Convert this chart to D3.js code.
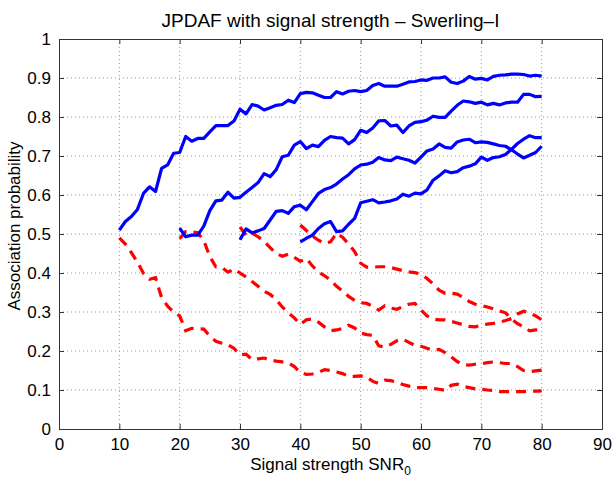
<!DOCTYPE html>
<html>
<head>
<meta charset="utf-8">
<script src="https://cdn.jsdelivr.net/npm/d3@7"></script>
<style>
  body { margin: 0; background: #fff; }
  text { font-family: "Liberation Sans", Arial, sans-serif; }
</style>
</head>
<body>
<div id="wrapper"></div>
<script>
// association probability vs SNR0, one value per unit of SNR
const blueStarts = [10, 20, 30, 40];
const blue1 = [0.51,0.532,0.545,0.563,0.604,0.621,0.609,0.668,0.677,0.707,0.709,0.750,0.738,0.745,0.745,0.762,0.778,0.778,0.778,0.790,
  0.820,0.808,0.832,0.828,0.818,0.824,0.830,0.832,0.843,0.837,0.860,0.863,0.862,0.856,0.850,0.850,0.865,0.859,0.866,0.868,
  0.865,0.868,0.881,0.886,0.879,0.879,0.879,0.884,0.890,0.891,0.895,0.894,0.900,0.900,0.903,0.889,0.886,0.892,0.904,0.897,
  0.899,0.895,0.904,0.907,0.908,0.910,0.910,0.909,0.905,0.907,0.905];
const blue2 = [0.515,0.493,0.497,0.497,0.52,0.56,0.585,0.587,0.607,0.592,0.594,0.607,0.619,0.632,0.655,0.647,0.665,0.698,0.702,0.728,
  0.737,0.719,0.728,0.724,0.740,0.750,0.747,0.746,0.731,0.742,0.766,0.760,0.772,0.790,0.791,0.777,0.779,0.760,0.777,0.786,
  0.788,0.792,0.802,0.799,0.799,0.815,0.830,0.841,0.839,0.835,0.838,0.831,0.835,0.831,0.836,0.838,0.838,0.858,0.858,0.852,0.853];
const blue3 = [0.485,0.513,0.503,0.508,0.514,0.536,0.558,0.560,0.553,0.570,0.574,0.562,0.583,0.604,0.614,0.619,0.628,0.641,0.652,0.667,
  0.677,0.679,0.684,0.696,0.690,0.688,0.697,0.693,0.689,0.682,0.697,0.713,0.718,0.731,0.722,0.720,0.736,0.741,0.743,0.734,
  0.736,0.735,0.731,0.727,0.725,0.716,0.705,0.695,0.702,0.709,0.725];
const blue4 = [0.480,0.489,0.497,0.514,0.526,0.532,0.506,0.508,0.525,0.540,0.580,0.584,0.588,0.580,0.582,0.585,0.590,0.602,0.597,0.605,
  0.603,0.613,0.638,0.649,0.662,0.657,0.660,0.670,0.674,0.680,0.697,0.689,0.696,0.698,0.704,0.717,0.732,0.743,0.752,0.747,0.747];

const redStarts = [10, 20, 30, 40];
const red1 = [0.49,0.474,0.452,0.428,0.399,0.384,0.388,0.337,0.315,0.300,0.290,0.252,0.258,0.257,0.256,0.238,0.225,0.220,0.216,0.207,
  0.190,0.192,0.178,0.180,0.182,0.177,0.174,0.172,0.170,0.160,0.145,0.140,0.141,0.145,0.152,0.150,0.146,0.142,0.135,0.135,
  0.136,0.133,0.122,0.117,0.125,0.124,0.120,0.114,0.110,0.106,0.106,0.106,0.104,0.102,0.099,0.112,0.115,0.109,0.106,0.103,
  0.102,0.100,0.099,0.096,0.096,0.096,0.096,0.096,0.097,0.097,0.098];
const red2 = [0.488,0.506,0.506,0.503,0.483,0.442,0.416,0.414,0.402,0.410,0.400,0.390,0.378,0.366,0.353,0.345,0.332,0.313,0.298,0.285,
  0.268,0.280,0.282,0.274,0.262,0.252,0.254,0.258,0.266,0.259,0.246,0.242,0.240,0.213,0.210,0.217,0.226,0.230,0.222,0.214,
  0.212,0.207,0.202,0.204,0.196,0.185,0.173,0.165,0.164,0.166,0.167,0.170,0.172,0.170,0.168,0.168,0.160,0.150,0.147,0.149,0.151];
const red3 = [0.518,0.497,0.502,0.493,0.481,0.465,0.450,0.443,0.448,0.440,0.430,0.437,0.418,0.403,0.393,0.382,0.366,0.354,0.340,0.330,
  0.324,0.322,0.315,0.305,0.316,0.310,0.307,0.314,0.320,0.322,0.305,0.290,0.282,0.280,0.280,0.276,0.272,0.267,0.263,0.262,
  0.266,0.269,0.271,0.274,0.278,0.283,0.295,0.302,0.298,0.290,0.280];
const red4 = [0.523,0.509,0.495,0.484,0.476,0.480,0.502,0.492,0.474,0.455,0.425,0.415,0.415,0.416,0.416,0.414,0.410,0.406,0.403,0.401,
  0.397,0.386,0.372,0.356,0.348,0.348,0.346,0.337,0.327,0.320,0.316,0.313,0.308,0.303,0.298,0.282,0.270,0.262,0.252,0.254,0.255];

const xTicks = [0, 10, 20, 30, 40, 50, 60, 70, 80, 90];
const yTicks = [0, 0.1, 0.2, 0.3, 0.4, 0.5, 0.6, 0.7, 0.8, 0.9, 1];

const width = 615, height = 478;
const margin = { top: 39, right: 13, bottom: 49, left: 59 };
const w = width - margin.left - margin.right;
const h = height - margin.top - margin.bottom;

const svg = d3.select("#wrapper").append("svg")
  .attr("width", width)
  .attr("height", height);

const g = svg.append("g").attr("transform", `translate(${margin.left},${margin.top})`);

const x = d3.scaleLinear().domain([0, 90]).range([0, w]);
const y = d3.scaleLinear().domain([0, 1]).range([h, 0]);

// dotted grid
g.append("g")
  .selectAll("line")
  .data(xTicks.slice(1, -1))
  .join("line")
  .attr("x1", d => x(d)).attr("x2", d => x(d))
  .attr("y1", 0).attr("y2", h)
  .attr("stroke", "#999").attr("stroke-width", 1)
  .attr("stroke-dasharray", "1,3");
g.append("g")
  .selectAll("line")
  .data(yTicks.slice(1, -1))
  .join("line")
  .attr("y1", d => y(d)).attr("y2", d => y(d))
  .attr("x1", 0).attr("x2", w)
  .attr("stroke", "#999").attr("stroke-width", 1)
  .attr("stroke-dasharray", "1,3");

// axes, ticks pointing inward on all four sides
const axisColor = "#333";
const fmt = d => d3.format("~g")(d);
const xAxis = g.append("g").attr("transform", `translate(0,${h})`)
  .call(d3.axisBottom(x).tickValues(xTicks).tickSize(-5).tickPadding(9).tickFormat(fmt));
const xTop = g.append("g")
  .call(d3.axisTop(x).tickValues(xTicks).tickSize(-5).tickFormat(""));
const yAxis = g.append("g")
  .call(d3.axisLeft(y).tickValues(yTicks).tickSize(-5).tickPadding(8).tickFormat(fmt));
const yRight = g.append("g").attr("transform", `translate(${w},0)`)
  .call(d3.axisRight(y).tickValues(yTicks).tickSize(-5).tickFormat(""));

[xAxis, xTop, yAxis, yRight].forEach(a => {
  a.select(".domain").attr("stroke", axisColor).attr("stroke-width", 1);
  a.selectAll(".tick line").attr("stroke", axisColor);
  a.selectAll(".tick text").attr("fill", "#000").attr("font-size", 17)
    .attr("font-family", "'Liberation Sans', Arial, sans-serif");
});

const line = d3.line()
  .x(d => x(d[0]))
  .y(d => y(d[1]));

const toPoints = (vals, start) => vals.map((v, i) => [start + i, v]);

const blues = [blue1, blue2, blue3, blue4];
const reds = [red1, red2, red3, red4];

g.append("g")
  .selectAll("path")
  .data(reds.map((r, i) => toPoints(r, redStarts[i])))
  .join("path")
  .attr("d", line)
  .attr("fill", "none")
  .attr("stroke", "#ff0000")
  .attr("stroke-width", 3.2)
  .attr("stroke-dasharray", "10,7");

g.append("g")
  .selectAll("path")
  .data(blues.map((b, i) => toPoints(b, blueStarts[i])))
  .join("path")
  .attr("d", line)
  .attr("fill", "none")
  .attr("stroke", "#0000ff")
  .attr("stroke-width", 3.2)
  .attr("stroke-linejoin", "round");

// title and labels
svg.append("text")
  .attr("x", margin.left + w / 2).attr("y", 27)
  .attr("text-anchor", "middle")
  .attr("font-size", 19)
  .text("JPDAF with signal strength – Swerling–I");

const xl = svg.append("text")
  .attr("x", margin.left + w / 2).attr("y", 470)
  .attr("text-anchor", "middle")
  .attr("font-size", 17);
xl.append("tspan").text("Signal strength SNR");
xl.append("tspan").attr("font-size", 12).attr("dy", 5).text("0");

svg.append("text")
  .attr("transform", `translate(20,${margin.top + h / 2 - 8}) rotate(-90)`)
  .attr("text-anchor", "middle")
  .attr("font-size", 17)
  .text("Association probability");
</script>
</body>
</html>
